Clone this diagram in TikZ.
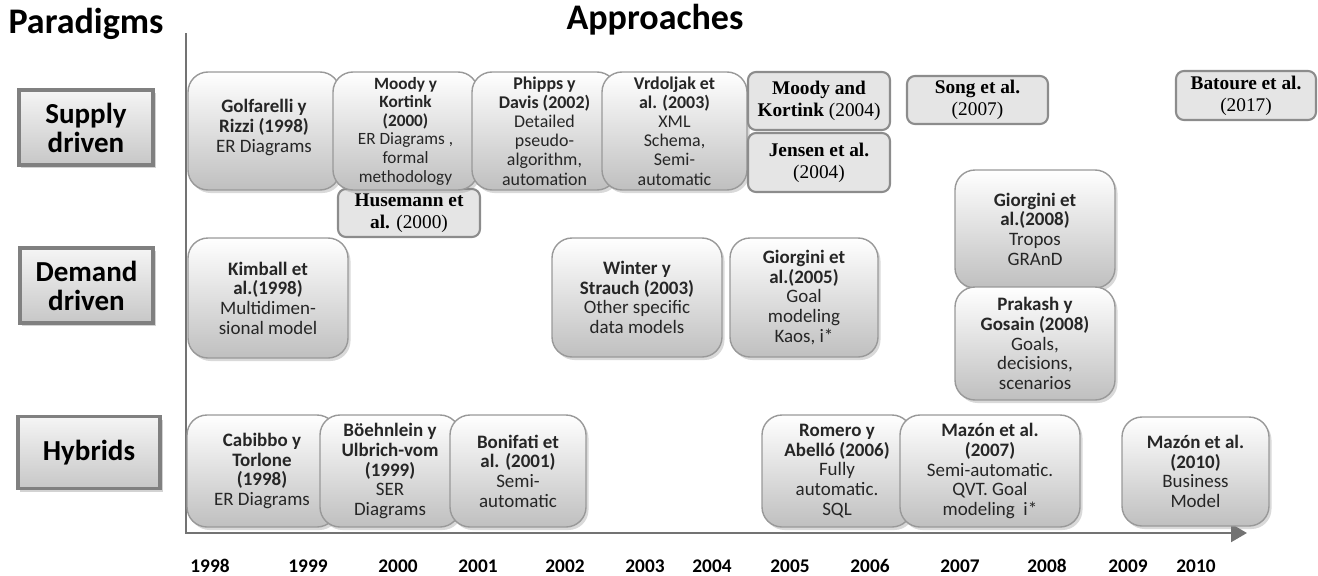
\documentclass[tikz,border=0pt]{standalone}
\usepackage{fontspec}
\setmainfont{Carlito}[Numbers=Lining]
\newfontfamily\timesfont{Liberation Serif}[Numbers=Lining]
\usetikzlibrary{shadows,arrows.meta}

\tikzset{
  boxdim/.style 2 args={minimum width=#1*0.02cm, minimum height=#2*0.02cm},
  bigbox/.style={draw=black!40, line width=0.8pt, rounded corners=0.4cm,
    top color=white, bottom color=black!25, text=black!85,
    drop shadow={opacity=0.3, shadow xshift=0.05cm, shadow yshift=-0.06cm},
    align=center, inner sep=1pt, font=\fontsize{10.8}{11.2}\selectfont},
  smallbox/.style={draw=black!45, line width=1.2pt, rounded corners=0.16cm,
    fill=black!10, align=center, inner sep=1pt,
    font=\timesfont\fontsize{11}{12.4}\selectfont},
  paradigm/.style={draw=black!50, line width=2pt, top color=black!4,
    bottom color=black!22,
    drop shadow={opacity=0.35, shadow xshift=0.05cm, shadow yshift=-0.06cm},
    align=center, font=\bfseries\fontsize{16.5}{16.5}\selectfont},
  heading/.style={font=\bfseries\fontsize{20.5}{20.5}\selectfont},
  year/.style={anchor=base, font=\bfseries\fontsize{11}{11}\selectfont},
  axis/.style={draw=black!55, line width=1.6pt},
}

\begin{document}
\begin{tikzpicture}[x=0.02cm, y=-0.02cm]
\useasboundingbox (0,0) rectangle (1318,575);

\node[heading] (T1) at (86,24) {Paradigms};
\node[heading] (T2) at (655,20) {Approaches};

% paradigms
\node[paradigm, boxdim={134}{75}] (P1) at (86,127.5) {Supply\\driven};
\node[paradigm, boxdim={133}{75}] (P2) at (86.5,285.5) {Demand\\driven};
\node[paradigm, boxdim={142}{72}] (P3) at (89,452.5) {Hybrids};

% axes
\coordinate (A0) at (186,33);
\coordinate (A1) at (186,533);
\coordinate (A2) at (1247,533);
\draw[axis, -{Triangle[length=9pt, width=10pt]}] (A0) -- (A1) -- (A2);

\foreach \x/\yr in {210/1998, 308/1999, 398/2000, 478/2001, 565/2002,
  645/2003, 712/2004, 790/2005, 870/2006, 960/2007, 1047/2008,
  1128/2009, 1196/2010}
  \node[year] (Y\yr) at (\x,572) {\yr};

% supply driven
\node[bigbox, boxdim={152}{118}, text height=26pt] (P10) at (264,131) {\textbf{Golfarelli y}\\\textbf{Rizzi (1998)}\\ER Diagrams};
\node[smallbox, boxdim={142}{48}] (P11) at (409,213) {\textbf{Husemann et}\\\textbf{al.} (2000)};
\node[bigbox, boxdim={145}{118}, font=\fontsize{9.8}{10.6}\selectfont] (P12) at (405.5,131) {\textbf{Moody y}\\\textbf{Kortink}\\\textbf{(2000)}\\ER Diagrams ,\\formal\\methodology};
\node[bigbox, boxdim={145}{118}, font=\fontsize{10.2}{10.9}\selectfont] (P13) at (544.5,131) {\textbf{Phipps y}\\\textbf{Davis (2002)}\\Detailed\\pseudo-\\algorithm,\\automation};
\node[bigbox, boxdim={145}{118}, font=\fontsize{10.2}{10.9}\selectfont] (P14) at (674.5,131) {\textbf{Vrdoljak et}\\\textbf{al. (2003)}\\XML\\Schema,\\Semi-\\automatic};
\node[smallbox, boxdim={142}{58}] (P15) at (819,101) {\textbf{Moody and}\\\textbf{Kortink} (2004)};
\node[smallbox, boxdim={142}{59}] (P16) at (819,162.5) {\textbf{Jensen et al.}\\(2004)};
\node[smallbox, boxdim={141}{48}] (P17) at (977.5,100) {\textbf{Song et al.}\\(2007)};
\node[smallbox, boxdim={140}{49}] (P18) at (1246,95.5) {\textbf{Batoure et al.}\\(2017)};

% demand driven
\node[bigbox, boxdim={160}{120}] (P20) at (268,298) {\textbf{Kimball et}\\\textbf{al.(1998)}\\Multidimen-\\sional model};
\node[bigbox, boxdim={170}{119}] (P21) at (637,297.5) {\textbf{Winter y}\\\textbf{Strauch (2003)}\\Other specific\\data models};
\node[bigbox, boxdim={148}{119}] (P22) at (804,297.5) {\textbf{Giorgini et}\\\textbf{al.(2005)}\\Goal\\modeling\\Kaos, i*};
\node[bigbox, boxdim={160}{118}] (P23) at (1035,229) {\textbf{Giorgini et}\\\textbf{al.(2008)}\\Tropos\\GRAnD};
\node[bigbox, boxdim={160}{113}] (P24) at (1035,343.5) {\textbf{Prakash y}\\\textbf{Gosain (2008)}\\Goals,\\decisions,\\scenarios};

% hybrids
\node[bigbox, boxdim={150}{112}] (P30) at (262,471) {\textbf{Cabibbo y}\\\textbf{Torlone}\\\textbf{(1998)}\\ER Diagrams};
\node[bigbox, boxdim={140}{112}] (P31) at (390,471) {\textbf{Böehnlein y}\\\textbf{Ulbrich-vom}\\\textbf{(1999)}\\SER\\Diagrams};
\node[bigbox, boxdim={136}{112}] (P32) at (518,471) {\textbf{Bonifati et}\\\textbf{al. (2001)}\\Semi-\\automatic};
\node[bigbox, boxdim={150}{112}] (P33) at (837,471) {\textbf{Romero y}\\\textbf{Abelló (2006)}\\Fully\\automatic.\\SQL};
\node[bigbox, boxdim={180}{112}] (P34) at (990,471) {\textbf{Mazón et al.}\\\textbf{(2007)}\\Semi-automatic.\\QVT. Goal\\modeling\ \ i*};
\node[bigbox, boxdim={147}{109}] (P35) at (1195.5,471.5) {\textbf{Mazón et al.}\\\textbf{(2010)}\\Business\\Model};
\end{tikzpicture}
\end{document}
